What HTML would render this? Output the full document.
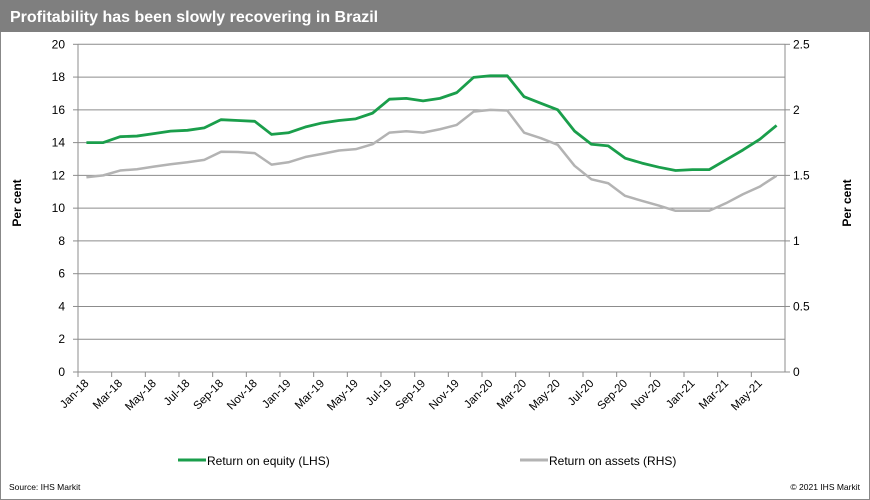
<!DOCTYPE html>
<html><head><meta charset="utf-8"><style>
body{margin:0;background:#fff;}
#wrap{position:relative;width:870px;height:500px;overflow:hidden;font-family:"Liberation Sans",Arial,sans-serif;}
svg text{font-family:"Liberation Sans",Arial,sans-serif;}
</style></head><body>
<div id="wrap">
<svg id="chart" width="870" height="500">
<rect x="0.5" y="0.5" width="869" height="499" fill="#fff" stroke="#888"/>
<rect x="0" y="0" width="870" height="32" fill="#7f7f7f"/>
<text x="10" y="22" fill="#fff" font-size="16" font-weight="bold">Profitability  has been slowly recovering in Brazil</text>
<text transform="translate(21,203) rotate(-90)" text-anchor="middle" font-size="12" font-weight="bold">Per cent</text>
<text transform="translate(851,203) rotate(-90)" text-anchor="middle" font-size="12" font-weight="bold">Per cent</text>
<g id="grid"></g><g id="axes"></g><g id="series"></g>
<line x1="178" y1="460" x2="206" y2="460" stroke="#1a9e4b" stroke-width="3"/>
<text x="207" y="465" font-size="12">Return on equity (LHS)</text>
<line x1="520" y1="460" x2="548" y2="460" stroke="#b3b3b3" stroke-width="3"/>
<text x="549" y="465" font-size="12">Return on assets (RHS)</text>
<text x="9" y="490" font-size="8.5">Source:  IHS Markit</text>
<text x="860" y="490" font-size="8.5" text-anchor="end">© 2021  IHS Markit</text>
</svg>
</div>
<script>
const months = ["Jan-18","Feb-18","Mar-18","Apr-18","May-18","Jun-18","Jul-18","Aug-18","Sep-18","Oct-18","Nov-18","Dec-18","Jan-19","Feb-19","Mar-19","Apr-19","May-19","Jun-19","Jul-19","Aug-19","Sep-19","Oct-19","Nov-19","Dec-19","Jan-20","Feb-20","Mar-20","Apr-20","May-20","Jun-20","Jul-20","Aug-20","Sep-20","Oct-20","Nov-20","Dec-20","Jan-21","Feb-21","Mar-21","Apr-21","May-21","Jun-21"];
const roe = [14.0,14.0,14.36,14.4,14.55,14.7,14.75,14.9,15.4,15.35,15.3,14.5,14.6,14.95,15.2,15.35,15.45,15.8,16.65,16.7,16.55,16.7,17.05,17.98,18.08,18.08,16.8,16.4,16.0,14.7,13.9,13.8,13.05,12.75,12.5,12.3,12.35,12.35,12.95,13.55,14.2,15.05];
const roa = [1.486,1.5,1.537,1.547,1.567,1.585,1.6,1.618,1.68,1.678,1.67,1.582,1.6,1.64,1.664,1.69,1.7,1.738,1.826,1.837,1.826,1.852,1.885,1.986,2.0,1.995,1.826,1.784,1.733,1.573,1.47,1.44,1.344,1.306,1.27,1.23,1.23,1.23,1.288,1.356,1.414,1.498];
const leftTicks = [0,2,4,6,8,10,12,14,16,18,20];
const rightTicks = ["0","0.5","1","1.5","2","2.5"];

const NS="http://www.w3.org/2000/svg";
const X0=78,X1=785,Y0=372,Y1=44.3;
const step=(X1-X0)/months.length;
const xc=i=>X0+(i+0.5)*step;
const yL=v=>Y0-(v/20)*(Y0-Y1);
const yR=v=>Y0-(v/2.5)*(Y0-Y1);
function mk(tag,attrs,parent){const e=document.createElementNS(NS,tag);for(const k in attrs)e.setAttribute(k,attrs[k]);parent.appendChild(e);return e;}
const grid=document.getElementById('grid'),axes=document.getElementById('axes'),series=document.getElementById('series');
leftTicks.forEach(v=>{
  const y=yL(v);
  if(v>0){const g=mk('line',{x1:X0,x2:X1,y1:y,y2:y,stroke:'#8c8c8c','stroke-width':1},grid);
  
  }
  const t=mk('line',{x1:X0-5,x2:X0,y1:y,y2:y,stroke:'#8c8c8c'},axes);
  
  
  const l=mk('text',{x:X0-13,y:y+4,'font-size':12,'text-anchor':'end'},axes);l.textContent=v;
  
  
});
rightTicks.forEach(s=>{
  const y=yR(parseFloat(s));
  const t=mk('line',{x1:X1,x2:X1+5,y1:y,y2:y,stroke:'#8c8c8c'},axes);
  
  
  const l=mk('text',{x:X1+8,y:y+4,'font-size':12},axes);l.textContent=s;
  
  
});
[['left-y-axis',X0],['right-y-axis',X1]].forEach(([n,x])=>{
  const a=mk('line',{x1:x,x2:x,y1:Y1,y2:Y0,stroke:'#8c8c8c'},axes);
  
  
});
const xa=mk('line',{x1:X0,x2:X1,y1:Y0,y2:Y0,stroke:'#8c8c8c'},axes);


months.forEach((m,i)=>{
  if(i%2) return;
  const x=X0+i*step;
  const t=mk('line',{x1:x,x2:x,y1:Y0,y2:Y0+5,stroke:'#8c8c8c'},axes);
  
  
  const cx=xc(i)+3;
  const l=mk('text',{x:cx,y:Y0+12,'font-size':11.5,'text-anchor':'end',transform:`rotate(-45 ${cx} ${Y0+12})`},axes);l.textContent=m;
  
  
});
const pRoa=mk('polyline',{points:roa.map((v,i)=>xc(i)+','+yR(v)).join(' '),fill:'none',stroke:'#b3b3b3','stroke-width':2.5,'stroke-linejoin':'round'},series);


const pRoe=mk('polyline',{points:roe.map((v,i)=>xc(i)+','+yL(v)).join(' '),fill:'none',stroke:'#1a9e4b','stroke-width':2.8,'stroke-linejoin':'round'},series);


</script>
</body></html>
